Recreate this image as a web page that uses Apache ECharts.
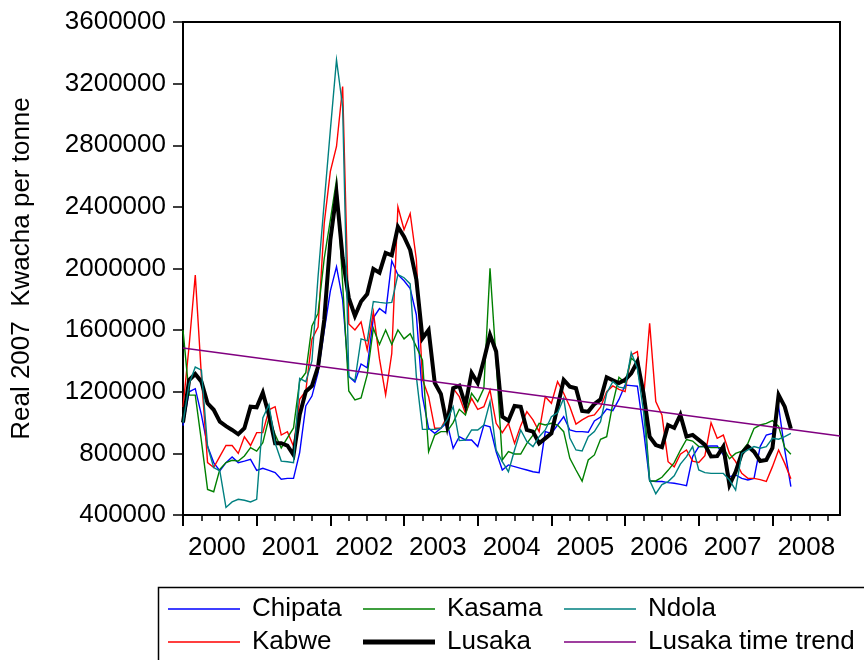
<!DOCTYPE html>
<html>
<head>
<meta charset="utf-8">
<title>Real maize prices</title>
<script src="https://cdn.jsdelivr.net/npm/echarts@6/dist/echarts.min.js"></script>
<style>
	html, body { margin: 0; padding: 0; background: #fff; }
	#prices { width: 864px; height: 660px; }
</style>
</head>
<body>
<div id="prices"></div>
<script>
// monthly observations, 2000M01 .. 2008M04 (axis runs to 2008M12)
var years = [2000, 2001, 2002, 2003, 2004, 2005, 2006, 2007, 2008];

var chipata = [
	980000, 1200000, 1220000, 1050000, 846000, 740000, 686000, 740000, 777000, 740000, 750000, 761000,
	690000, 703000, 690000, 675000, 632000, 638000, 638000, 805000, 1108000, 1172000, 1324000, 1595000,
	1855000, 2012000, 1796000, 1300000, 1263000, 1380000, 1355000, 1680000, 1740000, 1710000, 2050000, 1960000,
	1920000, 1870000, 1700000, 1170000, 963000, 930000, 963000, 1000000, 833000, 908000, 887000, 887000,
	844000, 984000, 973000, 811000, 692000, 725000, 714000, 703000, 692000, 681000, 675000, 941000,
	930000, 984000, 1038000, 952000, 941000, 941000, 937000, 1010000, 1036000, 1088000, 1077000, 1150000,
	1244000, 1240000, 1236000, 952000, 621000, 617000, 617000, 610000, 606000, 599000, 591000, 779000,
	844000, 846000, 848000, 848000, 790000, 649000, 660000, 638000, 627000, 638000, 844000, 919000,
	930000, 1103000, 822000, 584000
];
var kabwe = [
	1100000, 1500000, 1958000, 1300000, 740000, 708000, 780000, 851000, 851000, 800000, 908000, 851000,
	935000, 935000, 1083000, 1103000, 919000, 941000, 846000, 1151000, 1205000, 1541000, 1620000, 2294000,
	2630000, 2792000, 3181000, 1640000, 1601000, 1653000, 1472000, 1718000, 1413000, 1180000, 1448000, 2400000,
	2252000, 2357000, 2060000, 1280000, 1168000, 963000, 963000, 1038000, 1222000, 1168000, 1060000, 1157000,
	1086000, 1103000, 1211000, 995000, 934000, 995000, 865000, 980000, 1071000, 1017000, 941000, 1168000,
	1125000, 1266000, 1190000, 1103000, 990000, 1017000, 1040000, 1050000, 1100000, 1200000, 1238000, 1216000,
	1201000, 1439000, 1461000, 1150000, 1645000, 1136000, 1049000, 746000, 713000, 795000, 822000, 750000,
	741000, 785000, 999000, 898000, 919000, 800000, 746000, 670000, 638000, 638000, 630000, 618000,
	714000, 822000, 735000, 635000
];
var kasama = [
	1600000, 1178000, 1178000, 880000, 566000, 551000, 697000, 740000, 755000, 750000, 783000, 837000,
	815000, 870000, 1030000, 922000, 835000, 900000, 965000, 1270000, 1324000, 1627000, 1710000, 2065000,
	2316000, 2575000, 1900000, 1205000, 1147000, 1160000, 1309000, 1612000, 1507000, 1601000, 1507000, 1601000,
	1543000, 1577000, 1493000, 1405000, 811000, 919000, 941000, 941000, 1000000, 1086000, 1049000, 1190000,
	1136000, 1222000, 2002000, 1400000, 757000, 811000, 796000, 796000, 865000, 919000, 995000, 984000,
	995000, 984000, 941000, 768000, 692000, 620000, 757000, 790000, 891000, 908000, 1124000, 1294000,
	1259000, 1417000, 1385000, 1180000, 621000, 621000, 645000, 690000, 740000, 820000, 890000, 880000,
	844000, 842000, 837000, 837000, 837000, 765000, 800000, 815000, 865000, 962000, 984000, 995000,
	1013000, 975000, 837000, 795000
];
var lusaka = [
	1000000, 1276000, 1315000, 1265000, 1125000, 1083000, 1006000, 977000, 952000, 924000, 963000, 1103000,
	1099000, 1194000, 1050000, 866000, 866000, 851000, 790000, 1050000, 1201000, 1238000, 1363000, 1666000,
	2186000, 2489000, 2069000, 1809000, 1692000, 1786000, 1834000, 1997000, 1973000, 2101000, 2086000, 2271000,
	2206000, 2120000, 1930000, 1547000, 1601000, 1257000, 1186000, 984000, 1223000, 1240000, 1114000, 1322000,
	1257000, 1406000, 1569000, 1461000, 1038000, 1012000, 1108000, 1103000, 952000, 941000, 865000, 897000,
	930000, 1103000, 1277000, 1233000, 1223000, 1075000, 1071000, 1120000, 1150000, 1294000, 1275000, 1257000,
	1277000, 1320000, 1395000, 1190000, 908000, 854000, 840000, 984000, 965000, 1049000, 909000, 920000,
	888000, 855000, 780000, 782000, 844000, 595000, 680000, 800000, 846000, 811000, 750000, 757000,
	835000, 1179000, 1103000, 960000
];
var ndola = [
	1000000, 1250000, 1360000, 1340000, 846000, 708000, 686000, 449000, 485000, 502000, 496000, 485000,
	502000, 1030000, 1116000, 867000, 750000, 746000, 740000, 1287000, 1265000, 1400000, 1950000, 2430000,
	2900000, 3354000, 3050000, 1296000, 1273000, 1543000, 1530000, 1786000, 1780000, 1775000, 1780000, 1961000,
	1940000, 1900000, 1300000, 956000, 956000, 956000, 963000, 1017000, 1103000, 883000, 887000, 952000,
	952000, 984000, 1136000, 822000, 746000, 681000, 822000, 952000, 876000, 844000, 908000, 952000,
	1038000, 1064000, 1157000, 900000, 822000, 815000, 908000, 941000, 1006000, 1190000, 1266000, 1230000,
	1223000, 1454000, 1353000, 1071000, 625000, 538000, 597000, 617000, 655000, 730000, 779000, 844000,
	692000, 675000, 670000, 670000, 670000, 627000, 562000, 800000, 822000, 844000, 833000, 844000,
	898000, 892000, 908000, 930000
];
// Lusaka time trend, value at first and last month of the axis
var trendEnds = [1484000, 913000];

var yTicks = [400000, 3600000, 400000]; // min, max, step

// legend swatches: a bar across the middle of a 72x14 box (corner specks keep the box size)
var thinIcon = 'path://M0,0H0.01V0.01H0ZM0,6.3H72V7.7H0ZM71.99,13.99H72V14H71.99Z';
var thickIcon = 'path://M0,0H0.01V0.01H0ZM0,4.6H72V9.4H0ZM71.99,13.99H72V14H71.99Z';

function buildMonths() {
	var months = [];
	years.forEach(function(y) {
		for (var m = 1; m <= 12; m++) {
			months.push(y + 'M' + (m < 10 ? '0' + m : m));
		}
	});
	return months;
}

function lineSeries(name, data, color, width) {
	return {
		name: name,
		type: 'line',
		data: data,
		symbol: 'none',
		xAxisIndex: 0,
		lineStyle: { color: color, width: width, join: 'miter' },
		itemStyle: { color: color },
		z: 2
	};
}

function initChart() {
	var myChart = echarts.init(document.getElementById('prices'), null, { renderer: 'canvas' });
	var months = buildMonths();
	var last = months.length - 1;
	var font = 'Liberation Sans, Arial, sans-serif';

	var legendText = { fontFamily: font, fontSize: 26, color: '#000', lineHeight: 25, padding: [0, 0, 0, 7] };
	function legendCol(left, names) {
		return {
			orient: 'vertical', left: left, top: 596,
			padding: 0,
			itemWidth: 72, itemHeight: 14, itemGap: 7,
			symbolKeepAspect: false,
			textStyle: legendText,
			data: names.map(function(n) {
				return { name: n, icon: n === 'Lusaka' ? thickIcon : thinIcon };
			}),
			selectedMode: false
		};
	}

	var option = {
		animation: false,
		backgroundColor: '#fff',
		grid: {
			left: 183, top: 22, right: 24, bottom: 145,
			show: true, borderColor: '#000', borderWidth: 2
		},
		xAxis: [
			{
				// quarterly ticks and year labels
				type: 'category',
				data: months,
				boundaryGap: false,
				axisLine: { lineStyle: { color: '#000', width: 2 } },
				axisTick: {
					length: 6,
					lineStyle: { color: '#000', width: 1.5 },
					interval: function(index) { return index % 3 === 0; }
				},
				axisLabel: {
					interval: function(index) { return index % 12 === 6; },
					margin: 20,
					fontFamily: font, fontSize: 26, color: '#000',
					formatter: function(value) { return '{y|' + value.slice(0, 4) + '}'; },
					rich: { y: { fontFamily: font, fontSize: 26, color: '#000', padding: [0, 6, 0, 0] } }
				},
				splitLine: { show: false }
			},
			{
				// long ticks at the start of every year
				type: 'category',
				data: months,
				boundaryGap: false,
				position: 'bottom',
				axisLine: { show: false },
				axisTick: {
					length: 11,
					lineStyle: { color: '#000', width: 2 },
					interval: function(index) { return index % 12 === 0; }
				},
				axisLabel: { show: false },
				splitLine: { show: false }
			}
		],
		yAxis: {
			type: 'value',
			min: yTicks[0],
			max: yTicks[1],
			interval: yTicks[2],
			name: 'Real 2007  Kwacha per tonne',
			nameLocation: 'middle',
			nameGap: 148,
			nameTextStyle: { fontFamily: font, fontSize: 26, color: '#000' },
			axisLine: { show: true, lineStyle: { color: '#000', width: 2 } },
			axisTick: { show: true, length: 10, lineStyle: { color: '#000', width: 1.5 } },
			axisLabel: {
				margin: 17, fontFamily: font, fontSize: 26, color: '#000',
				formatter: function(v) { return String(v); }
			},
			splitLine: { show: false }
		},
		legend: [
			legendCol(168, ['Chipata', 'Kabwe']),
			legendCol(363, ['Kasama', 'Lusaka']),
			legendCol(564, ['Ndola', 'Lusaka time trend'])
		],
		graphic: [{
			type: 'rect',
			left: 156, top: 585,
			shape: { width: 740, height: 100 },
			style: { fill: 'none', stroke: '#000', lineWidth: 1.5 },
			silent: true
		}],
		series: [
			lineSeries('Chipata', chipata, '#0000ff', 1.4),
			lineSeries('Kabwe', kabwe, '#ff0000', 1.4),
			lineSeries('Kasama', kasama, '#008000', 1.4),
			lineSeries('Lusaka', lusaka, '#000000', 4),
			lineSeries('Ndola', ndola, '#008080', 1.4),
			lineSeries('Lusaka time trend', [[0, trendEnds[0]], [last, trendEnds[1]]], '#800080', 1.6)
		]
	};
	myChart.setOption(option);
}

initChart();
</script>
</body>
</html>
